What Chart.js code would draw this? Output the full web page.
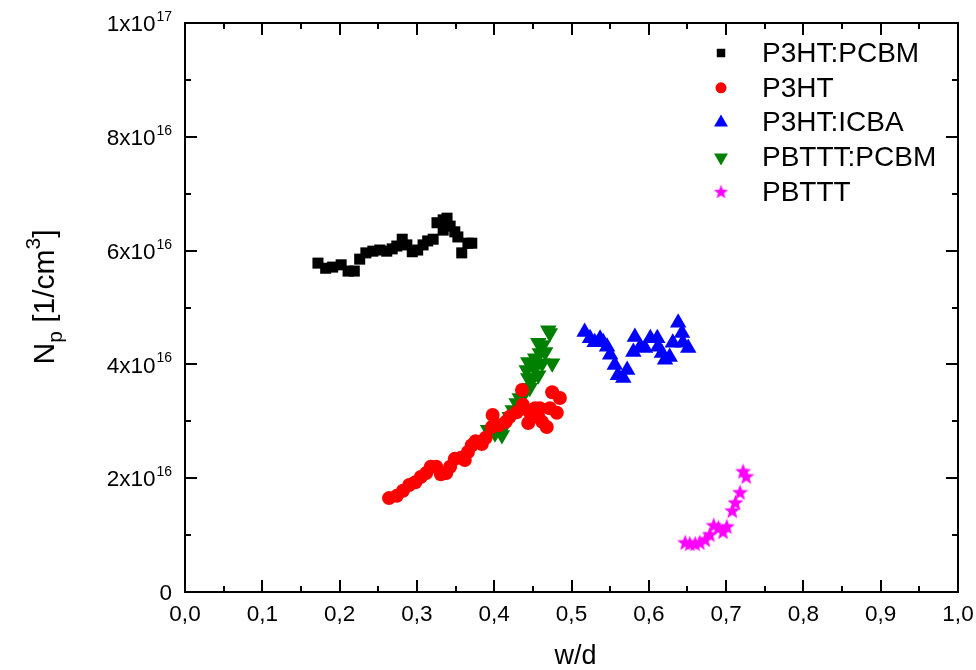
<!DOCTYPE html>
<html>
<head>
<meta charset="utf-8">
<script src="https://cdn.jsdelivr.net/npm/chart.js@4.4.0/dist/chart.umd.min.js"></script>
<style>
  html, body { margin: 0; padding: 0; background: #fff; }
</style>
</head>
<body>
<canvas id="myChart" width="976" height="670"></canvas>
<script>
// series: w/d and N_p [1/cm^3]
let p3htPcbmX = [0.172, 0.182, 0.191, 0.202, 0.211, 0.219, 0.226, 0.234, 0.243, 0.252, 0.261, 0.268, 0.274, 0.281, 0.287, 0.294, 0.301, 0.308, 0.314, 0.321, 0.326, 0.334, 0.339, 0.334, 0.343, 0.349, 0.353, 0.358, 0.366, 0.371]
let p3htPcbmY = [5.78e16, 5.69e16, 5.71e16, 5.75e16, 5.64e16, 5.64e16, 5.85e16, 5.96e16, 5.99e16, 6.01e16, 5.99e16, 6.03e16, 6.08e16, 6.20e16, 6.10e16, 5.98e16, 6.01e16, 6.10e16, 6.17e16, 6.20e16, 6.49e16, 6.54e16, 6.57e16, 6.36e16, 6.43e16, 6.33e16, 6.24e16, 5.96e16, 6.13e16, 6.13e16]

let p3htX = [0.264, 0.274, 0.282, 0.290, 0.298, 0.305, 0.312, 0.318, 0.325, 0.331, 0.338, 0.343, 0.349, 0.357, 0.362, 0.366, 0.371, 0.376, 0.384, 0.389, 0.397, 0.398, 0.406, 0.415, 0.420, 0.429, 0.436, 0.437, 0.444, 0.446, 0.453, 0.457, 0.462, 0.468, 0.459, 0.472, 0.475, 0.481, 0.485]
let p3htY = [1.65e16, 1.69e16, 1.78e16, 1.88e16, 1.93e16, 2.02e16, 2.09e16, 2.20e16, 2.20e16, 2.07e16, 2.09e16, 2.20e16, 2.34e16, 2.36e16, 2.32e16, 2.46e16, 2.58e16, 2.65e16, 2.60e16, 2.71e16, 2.90e16, 3.11e16, 2.93e16, 2.99e16, 3.08e16, 3.16e16, 3.55e16, 3.29e16, 2.97e16, 3.16e16, 3.23e16, 3.08e16, 2.99e16, 2.90e16, 3.23e16, 3.23e16, 3.51e16, 3.15e16, 3.41e16]

let p3htIcbaX = [0.517, 0.524, 0.530, 0.537, 0.541, 0.546, 0.550, 0.556, 0.560, 0.567, 0.572, 0.580, 0.582, 0.589, 0.595, 0.602, 0.611, 0.612, 0.617, 0.621, 0.627, 0.631, 0.638, 0.643, 0.644, 0.651]
let p3htIcbaY = [4.57e16, 4.46e16, 4.39e16, 4.45e16, 4.39e16, 4.31e16, 4.17e16, 3.99e16, 3.81e16, 3.76e16, 3.90e16, 4.22e16, 4.48e16, 4.31e16, 4.29e16, 4.46e16, 4.46e16, 4.31e16, 4.20e16, 4.08e16, 4.13e16, 4.38e16, 4.73e16, 4.55e16, 4.38e16, 4.29e16]

let pbtttPcbmX = [0.392, 0.401, 0.410, 0.405, 0.414, 0.420, 0.424, 0.429, 0.433, 0.440, 0.446, 0.442, 0.444, 0.450, 0.457, 0.453, 0.462, 0.444, 0.453, 0.459, 0.463, 0.457, 0.466, 0.470, 0.472, 0.475]
let pbtttPcbmY = [2.85e16, 2.79e16, 2.76e16, 2.90e16, 2.93e16, 3.08e16, 3.20e16, 3.32e16, 3.41e16, 3.51e16, 3.59e16, 3.90e16, 3.76e16, 3.76e16, 3.81e16, 3.94e16, 4.02e16, 4.04e16, 4.11e16, 4.20e16, 4.34e16, 4.38e16, 4.22e16, 4.60e16, 4.55e16, 4.02e16]

let pbtttX = [0.647, 0.653, 0.660, 0.666, 0.673, 0.679, 0.684, 0.690, 0.696, 0.701, 0.708, 0.712, 0.718, 0.722, 0.726]
let pbtttY = [0.86e16, 0.84e16, 0.84e16, 0.86e16, 0.91e16, 1.00e16, 1.16e16, 1.12e16, 1.05e16, 1.14e16, 1.42e16, 1.56e16, 1.74e16, 2.11e16, 2.02e16]

let seriesNames = ['P3HT:PCBM', 'P3HT', 'P3HT:ICBA', 'PBTTT:PCBM', 'PBTTT']
let seriesColors = ['#000000', '#ff0000', '#0000ff', '#008000', '#ff00ff']

let xTickValues = [0, 0.1, 0.2, 0.3, 0.4, 0.5, 0.6, 0.7, 0.8, 0.9, 1.0]
let xTickLabels = ['0,0', '0,1', '0,2', '0,3', '0,4', '0,5', '0,6', '0,7', '0,8', '0,9', '1,0']
let xMinorValues = [0.05, 0.15, 0.25, 0.35, 0.45, 0.55, 0.65, 0.75, 0.85, 0.95]
let yTickValues = [0, 2e16, 4e16, 6e16, 8e16, 1e17]
let yTickLabels = [['0', ''], ['2x10', '16'], ['4x10', '16'], ['6x10', '16'], ['8x10', '16'], ['1x10', '17']]
let yMinorValues = [1e16, 3e16, 5e16, 7e16, 9e16]

const ctx = document.getElementById('myChart').getContext('2d')
const FONT = 'Arial, "Liberation Sans", sans-serif'

function makeStar(r, color) {
    let c = document.createElement('canvas')
    c.width = c.height = Math.ceil(r * 2 + 2)
    let g = c.getContext('2d')
    g.fillStyle = color
    g.beginPath()
    for (let i = 0; i < 10; i++) {
        let a = -Math.PI / 2 + i * Math.PI / 5
        let rr = i % 2 === 0 ? r : r * 0.42
        g.lineTo(c.width / 2 + rr * Math.cos(a), c.height / 2 + rr * Math.sin(a))
    }
    g.closePath()
    g.fill()
    return c
}

function pts(xs, ys) {
    return xs.map((x, i) => ({ x: x, y: ys[i] }))
}

let markerStyles = [
    { pointStyle: 'rect', radius: 7.8, rotation: 0 },
    { pointStyle: 'circle', radius: 7, rotation: 0 },
    { pointStyle: 'triangle', radius: 9.5, rotation: 0 },
    { pointStyle: 'triangle', radius: 9.5, rotation: 180 },
    { pointStyle: makeStar(8.5, seriesColors[4]), radius: 8, rotation: 0 }
]
let legendStyles = [
    { pointStyle: 'rect', radius: 6, rotation: 0 },
    { pointStyle: 'circle', radius: 5.5, rotation: 0 },
    { pointStyle: 'triangle', radius: 8, rotation: 0 },
    { pointStyle: 'triangle', radius: 8, rotation: 180 },
    { pointStyle: makeStar(7.5, seriesColors[4]), radius: 7, rotation: 0 }
]

let allData = [pts(p3htPcbmX, p3htPcbmY), pts(p3htX, p3htY), pts(p3htIcbaX, p3htIcbaY), pts(pbtttPcbmX, pbtttPcbmY), pts(pbtttX, pbtttY)]

let datasets = allData.map((d, i) => ({
    label: seriesNames[i],
    data: d,
    backgroundColor: seriesColors[i],
    borderColor: seriesColors[i],
    borderWidth: 0,
    pointStyle: markerStyles[i].pointStyle,
    pointRadius: markerStyles[i].radius,
    pointRotation: markerStyles[i].rotation,
    showLine: false
}))

// frame, inward ticks, labels, titles and legend
const framePlugin = {
    id: 'framePlugin',
    afterDraw(chart) {
        let c = chart.ctx
        let a = chart.chartArea
        let xs = chart.scales.x
        let ys = chart.scales.y
        c.save()
        c.strokeStyle = '#000'
        c.lineWidth = 2
        c.beginPath()
        xTickValues.forEach(v => {
            let px = Math.round(xs.getPixelForValue(v))
            c.moveTo(px, a.bottom); c.lineTo(px, a.bottom - 12)
            c.moveTo(px, a.top); c.lineTo(px, a.top + 12)
        })
        xMinorValues.forEach(v => {
            let px = Math.round(xs.getPixelForValue(v))
            c.moveTo(px, a.bottom); c.lineTo(px, a.bottom - 6)
            c.moveTo(px, a.top); c.lineTo(px, a.top + 6)
        })
        yTickValues.forEach(v => {
            let py = Math.round(ys.getPixelForValue(v))
            c.moveTo(a.left, py); c.lineTo(a.left + 12, py)
            c.moveTo(a.right, py); c.lineTo(a.right - 12, py)
        })
        yMinorValues.forEach(v => {
            let py = Math.round(ys.getPixelForValue(v))
            c.moveTo(a.left, py); c.lineTo(a.left + 6, py)
            c.moveTo(a.right, py); c.lineTo(a.right - 6, py)
        })
        c.stroke()
        c.strokeRect(a.left, a.top, a.right - a.left, a.bottom - a.top)

        c.fillStyle = '#000'
        c.font = '22.5px ' + FONT
        c.textAlign = 'center'
        c.textBaseline = 'middle'
        xTickValues.forEach((v, i) => {
            c.fillText(xTickLabels[i], xs.getPixelForValue(v), a.bottom + 23)
        })

        let labelRight = a.left - 13
        yTickValues.forEach((v, i) => {
            let py = ys.getPixelForValue(v)
            let main = yTickLabels[i][0]
            let sup = yTickLabels[i][1]
            c.font = '14px ' + FONT
            let supW = sup ? c.measureText(sup).width : 0
            c.textAlign = 'left'
            c.textBaseline = 'alphabetic'
            if (sup) c.fillText(sup, labelRight - supW, py - 2)
            c.font = '22.5px ' + FONT
            c.textAlign = 'right'
            c.textBaseline = 'middle'
            c.fillText(main, labelRight - supW - (sup ? 1 : 0), py + 2)
        })

        // x title
        c.font = '27px ' + FONT
        c.textAlign = 'center'
        c.textBaseline = 'alphabetic'
        c.fillText('w/d', (a.left + a.right) / 2 + 4, 664)

        // y title, rotated
        let parts = [
            { t: 'N', s: 30, dy: 0 },
            { t: 'p', s: 21, dy: 8 },
            { t: ' [1/cm', s: 30, dy: 0 },
            { t: '3', s: 21, dy: -14 },
            { t: ']', s: 30, dy: 0 }
        ]
        let total = 0
        parts.forEach(p => { c.font = p.s + 'px ' + FONT; p.w = c.measureText(p.t).width; total += p.w })
        c.translate(54, 297)
        c.rotate(-Math.PI / 2)
        c.textAlign = 'left'
        let xpos = -total / 2
        parts.forEach(p => {
            c.font = p.s + 'px ' + FONT
            c.fillText(p.t, xpos, p.dy)
            xpos += p.w
        })
        c.restore()

        // legend
        c.save()
        seriesNames.forEach((name, i) => {
            let ly = 53 + i * 34.8
            c.fillStyle = seriesColors[i]
            c.strokeStyle = seriesColors[i]
            Chart.helpers.drawPoint(c, {
                pointStyle: legendStyles[i].pointStyle,
                rotation: legendStyles[i].rotation,
                radius: legendStyles[i].radius,
                borderWidth: 0
            }, 721, ly)
            c.fillStyle = '#000'
            c.font = '28px ' + FONT
            c.textAlign = 'left'
            c.textBaseline = 'middle'
            c.fillText(name, 762, ly + 1)
        })
        c.restore()
    }
}

let myChart = new Chart(ctx, {
    type: 'scatter',
    data: { datasets: datasets },
    options: {
        responsive: false,
        animation: false,
        layout: { padding: { left: 185, right: 18, top: 23, bottom: 78 } },
        plugins: { legend: { display: false }, tooltip: { enabled: false } },
        scales: {
            x: { type: 'linear', min: 0, max: 1, display: false },
            y: { type: 'linear', min: 0, max: 1e17, display: false }
        }
    },
    plugins: [framePlugin]
})
</script>
</body>
</html>
